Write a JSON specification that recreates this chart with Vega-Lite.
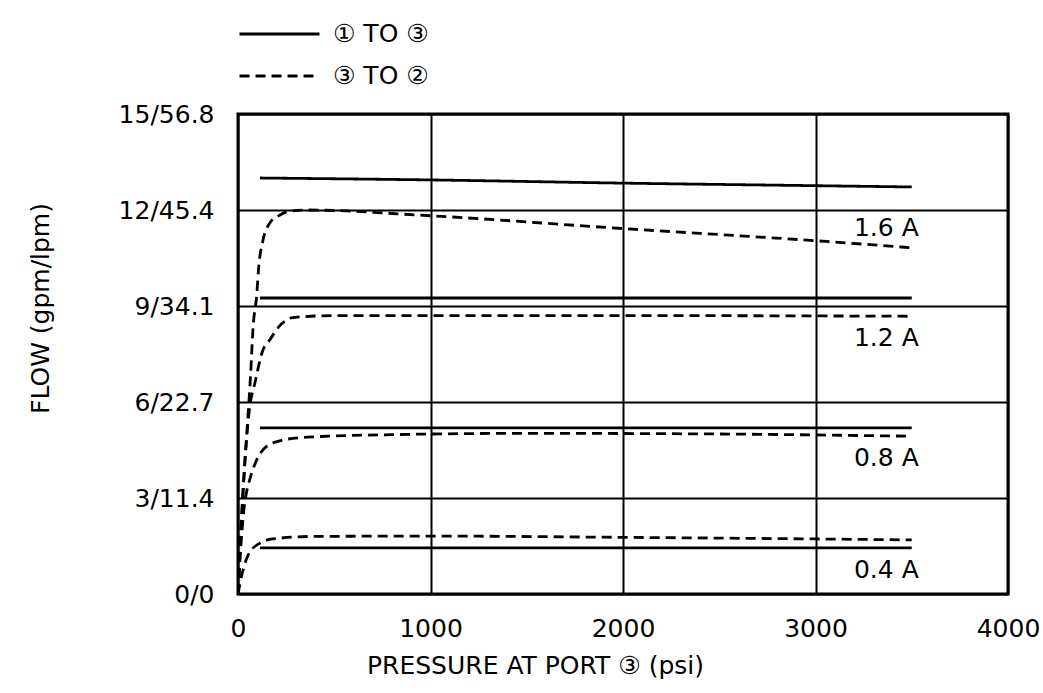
{
  "$schema": "https://vega.github.io/schema/vega-lite/v6.json",
  "width": 770,
  "height": 480,
  "autosize": {"type": "none"},
  "padding": {"left": 238, "top": 114, "right": 35, "bottom": 99},
  "background": "white",
  "config": {
    "font": "DejaVu Sans",
    "view": {"stroke": "black", "strokeWidth": 3},
    "axis": {
      "grid": true,
      "gridColor": "black",
      "gridWidth": 2,
      "gridOpacity": 1,
      "domain": false,
      "ticks": false,
      "labelFont": "DejaVu Sans",
      "labelFontSize": 25,
      "labelColor": "black",
      "titleFont": "DejaVu Sans",
      "titleFontSize": 25,
      "titleFontWeight": "normal",
      "titleColor": "black"
    }
  },
  "datasets": {
    "curves": [
      {"path": "① TO ③", "current": "1.6 A", "pressure": 114, "flow": 13.0},
      {"path": "① TO ③", "current": "1.6 A", "pressure": 1000, "flow": 12.94},
      {"path": "① TO ③", "current": "1.6 A", "pressure": 2000, "flow": 12.84},
      {"path": "① TO ③", "current": "1.6 A", "pressure": 3000, "flow": 12.76},
      {"path": "① TO ③", "current": "1.6 A", "pressure": 3500, "flow": 12.72},
      {"path": "① TO ③", "current": "1.2 A", "pressure": 114, "flow": 9.25},
      {"path": "① TO ③", "current": "1.2 A", "pressure": 3500, "flow": 9.25},
      {"path": "① TO ③", "current": "0.8 A", "pressure": 114, "flow": 5.19},
      {"path": "① TO ③", "current": "0.8 A", "pressure": 3500, "flow": 5.19},
      {"path": "① TO ③", "current": "0.4 A", "pressure": 114, "flow": 1.44},
      {"path": "① TO ③", "current": "0.4 A", "pressure": 3500, "flow": 1.44},

      {"path": "③ TO ②", "current": "1.6 A", "pressure": 0, "flow": 0},
      {"path": "③ TO ②", "current": "1.6 A", "pressure": 15, "flow": 2.0},
      {"path": "③ TO ②", "current": "1.6 A", "pressure": 30, "flow": 3.6},
      {"path": "③ TO ②", "current": "1.6 A", "pressure": 50, "flow": 5.4},
      {"path": "③ TO ②", "current": "1.6 A", "pressure": 65, "flow": 6.8},
      {"path": "③ TO ②", "current": "1.6 A", "pressure": 78, "flow": 8.3},
      {"path": "③ TO ②", "current": "1.6 A", "pressure": 98, "flow": 9.4},
      {"path": "③ TO ②", "current": "1.6 A", "pressure": 106, "flow": 10.1},
      {"path": "③ TO ②", "current": "1.6 A", "pressure": 130, "flow": 11.06},
      {"path": "③ TO ②", "current": "1.6 A", "pressure": 166, "flow": 11.6},
      {"path": "③ TO ②", "current": "1.6 A", "pressure": 218, "flow": 11.84},
      {"path": "③ TO ②", "current": "1.6 A", "pressure": 254, "flow": 11.94},
      {"path": "③ TO ②", "current": "1.6 A", "pressure": 350, "flow": 12.0},
      {"path": "③ TO ②", "current": "1.6 A", "pressure": 1000, "flow": 11.82},
      {"path": "③ TO ②", "current": "1.6 A", "pressure": 2000, "flow": 11.42},
      {"path": "③ TO ②", "current": "1.6 A", "pressure": 3000, "flow": 11.04},
      {"path": "③ TO ②", "current": "1.6 A", "pressure": 3500, "flow": 10.82},

      {"path": "③ TO ②", "current": "1.2 A", "pressure": 0, "flow": 0},
      {"path": "③ TO ②", "current": "1.2 A", "pressure": 20, "flow": 2.5},
      {"path": "③ TO ②", "current": "1.2 A", "pressure": 40, "flow": 4.5},
      {"path": "③ TO ②", "current": "1.2 A", "pressure": 60, "flow": 5.8},
      {"path": "③ TO ②", "current": "1.2 A", "pressure": 88, "flow": 6.6},
      {"path": "③ TO ②", "current": "1.2 A", "pressure": 110, "flow": 7.2},
      {"path": "③ TO ②", "current": "1.2 A", "pressure": 124, "flow": 7.53},
      {"path": "③ TO ②", "current": "1.2 A", "pressure": 166, "flow": 7.95},
      {"path": "③ TO ②", "current": "1.2 A", "pressure": 228, "flow": 8.45},
      {"path": "③ TO ②", "current": "1.2 A", "pressure": 285, "flow": 8.64},
      {"path": "③ TO ②", "current": "1.2 A", "pressure": 500, "flow": 8.7},
      {"path": "③ TO ②", "current": "1.2 A", "pressure": 2000, "flow": 8.7},
      {"path": "③ TO ②", "current": "1.2 A", "pressure": 3500, "flow": 8.68},

      {"path": "③ TO ②", "current": "0.8 A", "pressure": 0, "flow": 0},
      {"path": "③ TO ②", "current": "0.8 A", "pressure": 15, "flow": 1.5},
      {"path": "③ TO ②", "current": "0.8 A", "pressure": 30, "flow": 2.6},
      {"path": "③ TO ②", "current": "0.8 A", "pressure": 45, "flow": 3.2},
      {"path": "③ TO ②", "current": "0.8 A", "pressure": 62, "flow": 3.6},
      {"path": "③ TO ②", "current": "0.8 A", "pressure": 98, "flow": 4.2},
      {"path": "③ TO ②", "current": "0.8 A", "pressure": 150, "flow": 4.62},
      {"path": "③ TO ②", "current": "0.8 A", "pressure": 233, "flow": 4.81},
      {"path": "③ TO ②", "current": "0.8 A", "pressure": 357, "flow": 4.9},
      {"path": "③ TO ②", "current": "0.8 A", "pressure": 800, "flow": 4.98},
      {"path": "③ TO ②", "current": "0.8 A", "pressure": 1500, "flow": 5.02},
      {"path": "③ TO ②", "current": "0.8 A", "pressure": 2500, "flow": 5.0},
      {"path": "③ TO ②", "current": "0.8 A", "pressure": 3500, "flow": 4.93},

      {"path": "③ TO ②", "current": "0.4 A", "pressure": 0, "flow": 0},
      {"path": "③ TO ②", "current": "0.4 A", "pressure": 20, "flow": 0.6},
      {"path": "③ TO ②", "current": "0.4 A", "pressure": 53, "flow": 1.22},
      {"path": "③ TO ②", "current": "0.4 A", "pressure": 114, "flow": 1.59},
      {"path": "③ TO ②", "current": "0.4 A", "pressure": 181, "flow": 1.72},
      {"path": "③ TO ②", "current": "0.4 A", "pressure": 400, "flow": 1.8},
      {"path": "③ TO ②", "current": "0.4 A", "pressure": 1000, "flow": 1.81},
      {"path": "③ TO ②", "current": "0.4 A", "pressure": 2000, "flow": 1.77},
      {"path": "③ TO ②", "current": "0.4 A", "pressure": 3000, "flow": 1.72},
      {"path": "③ TO ②", "current": "0.4 A", "pressure": 3500, "flow": 1.69}
    ],
    "labels": [
      {"current": "1.6 A", "pressure": 3368, "flow": 11.44},
      {"current": "1.2 A", "pressure": 3368, "flow": 8.0},
      {"current": "0.8 A", "pressure": 3368, "flow": 4.25},
      {"current": "0.4 A", "pressure": 3368, "flow": 0.75}
    ]
  },
  "layer": [
    {
      "data": {"name": "curves"},
      "mark": {"type": "line", "color": "black", "strokeWidth": 2.8, "interpolate": "monotone", "clip": true},
      "encoding": {
        "x": {
          "field": "pressure", "type": "quantitative",
          "scale": {"domain": [0, 4000], "nice": false},
          "axis": {
            "values": [0, 1000, 2000, 3000, 4000],
            "format": "d",
            "labelFlush": false,
            "title": "PRESSURE AT PORT ③ (psi)",
            "labelPadding": 22,
            "titleX": 297,
            "titleY": 71,
            "titleBaseline": "middle",
            "titleAnchor": "middle"
          }
        },
        "y": {
          "field": "flow", "type": "quantitative",
          "scale": {"domain": [0, 15], "nice": false},
          "axis": {
            "values": [0, 3, 6, 9, 12, 15],
            "labelExpr": "datum.value == 0 ? '0/0' : datum.value + '/' + format(datum.value * 3.785, '.1f')",
            "labelPadding": 24,
            "title": "FLOW (gpm/lpm)",
            "titleX": -198,
            "titleY": 194,
            "titleAngle": -90,
            "titleBaseline": "middle",
            "titleAnchor": "middle"
          }
        },
        "detail": [{"field": "current"}],
        "strokeDash": {
          "field": "path", "type": "nominal",
          "scale": {"domain": ["① TO ③", "③ TO ②"], "range": [[1, 0], [10, 6]]},
          "legend": {
            "title": null,
            "orient": "none",
            "legendX": 0,
            "legendY": -93,
            "padding": 0,
            "symbolType": "stroke",
            "symbolSize": 6400,
            "symbolStrokeWidth": 2.8,
            "symbolStrokeColor": "black",
            "clipHeight": 26,
            "labelFontSize": 25,
            "labelFont": "DejaVu Sans",
            "labelColor": "black",
            "labelOffset": 12,
            "rowPadding": 16
          }
        }
      }
    },
    {
      "data": {"name": "labels"},
      "mark": {"type": "text", "fontSize": 25, "color": "black", "align": "center", "baseline": "middle"},
      "encoding": {
        "x": {"field": "pressure", "type": "quantitative"},
        "y": {"field": "flow", "type": "quantitative"},
        "text": {"field": "current"}
      }
    }
  ]
}
